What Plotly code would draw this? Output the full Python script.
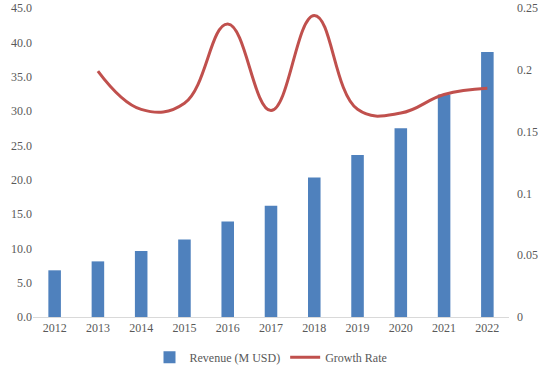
import plotly.graph_objects as go

years = ["2012", "2013", "2014", "2015", "2016", "2017", "2018", "2019", "2020", "2021", "2022"]
revenue = [6.8, 8.1, 9.6, 11.3, 13.9, 16.2, 20.3, 23.6, 27.5, 32.4, 38.6]
growth_years = ["2013", "2014", "2015", "2016", "2017", "2018", "2019", "2020", "2021", "2022"]
growth_rate = [0.199, 0.168, 0.173, 0.237, 0.167, 0.244, 0.168, 0.165, 0.180, 0.185]

font = dict(family="Times New Roman, Liberation Serif, serif", size=12, color="#595959")

fig = go.Figure()
fig.add_trace(go.Bar(x=years, y=revenue, name="Revenue (M USD)",
                     marker=dict(color="#4F81BD", line=dict(width=0)), width=0.29))
fig.add_trace(go.Scatter(x=growth_years, y=growth_rate, name="Growth Rate", yaxis="y2",
                         mode="lines", line=dict(color="#C0504D", width=3, shape="spline", smoothing=1.2)))

fig.update_layout(
    width=538, height=375,
    margin=dict(l=33, r=29, t=8, b=58, autoexpand=False),
    paper_bgcolor="white", plot_bgcolor="white",
    font=font,
    showlegend=True,
    legend=dict(orientation="h", x=0.5, xanchor="center", y=-0.13, yanchor="middle",
                font=font, itemwidth=30, tracegroupgap=0),
    xaxis=dict(type="category", showgrid=False, showline=True, linecolor="#D9D9D9", linewidth=1,
               ticks="", tickfont=font, zeroline=False),
    yaxis=dict(range=[0, 45], dtick=5, tickformat=".1f", showgrid=False, zeroline=False,
               showline=False, ticks="", tickfont=font),
    yaxis2=dict(range=[0, 0.25], dtick=0.05, overlaying="y", side="right", showgrid=False,
                zeroline=False, showline=False, ticks="", tickfont=font, ticklabelstandoff=7),
    bargap=0.71,
)

fig.write_html("out.html", config={"displayModeBar": False},
               post_script="document.body.style.margin='0px';document.body.style.overflow='hidden';")
